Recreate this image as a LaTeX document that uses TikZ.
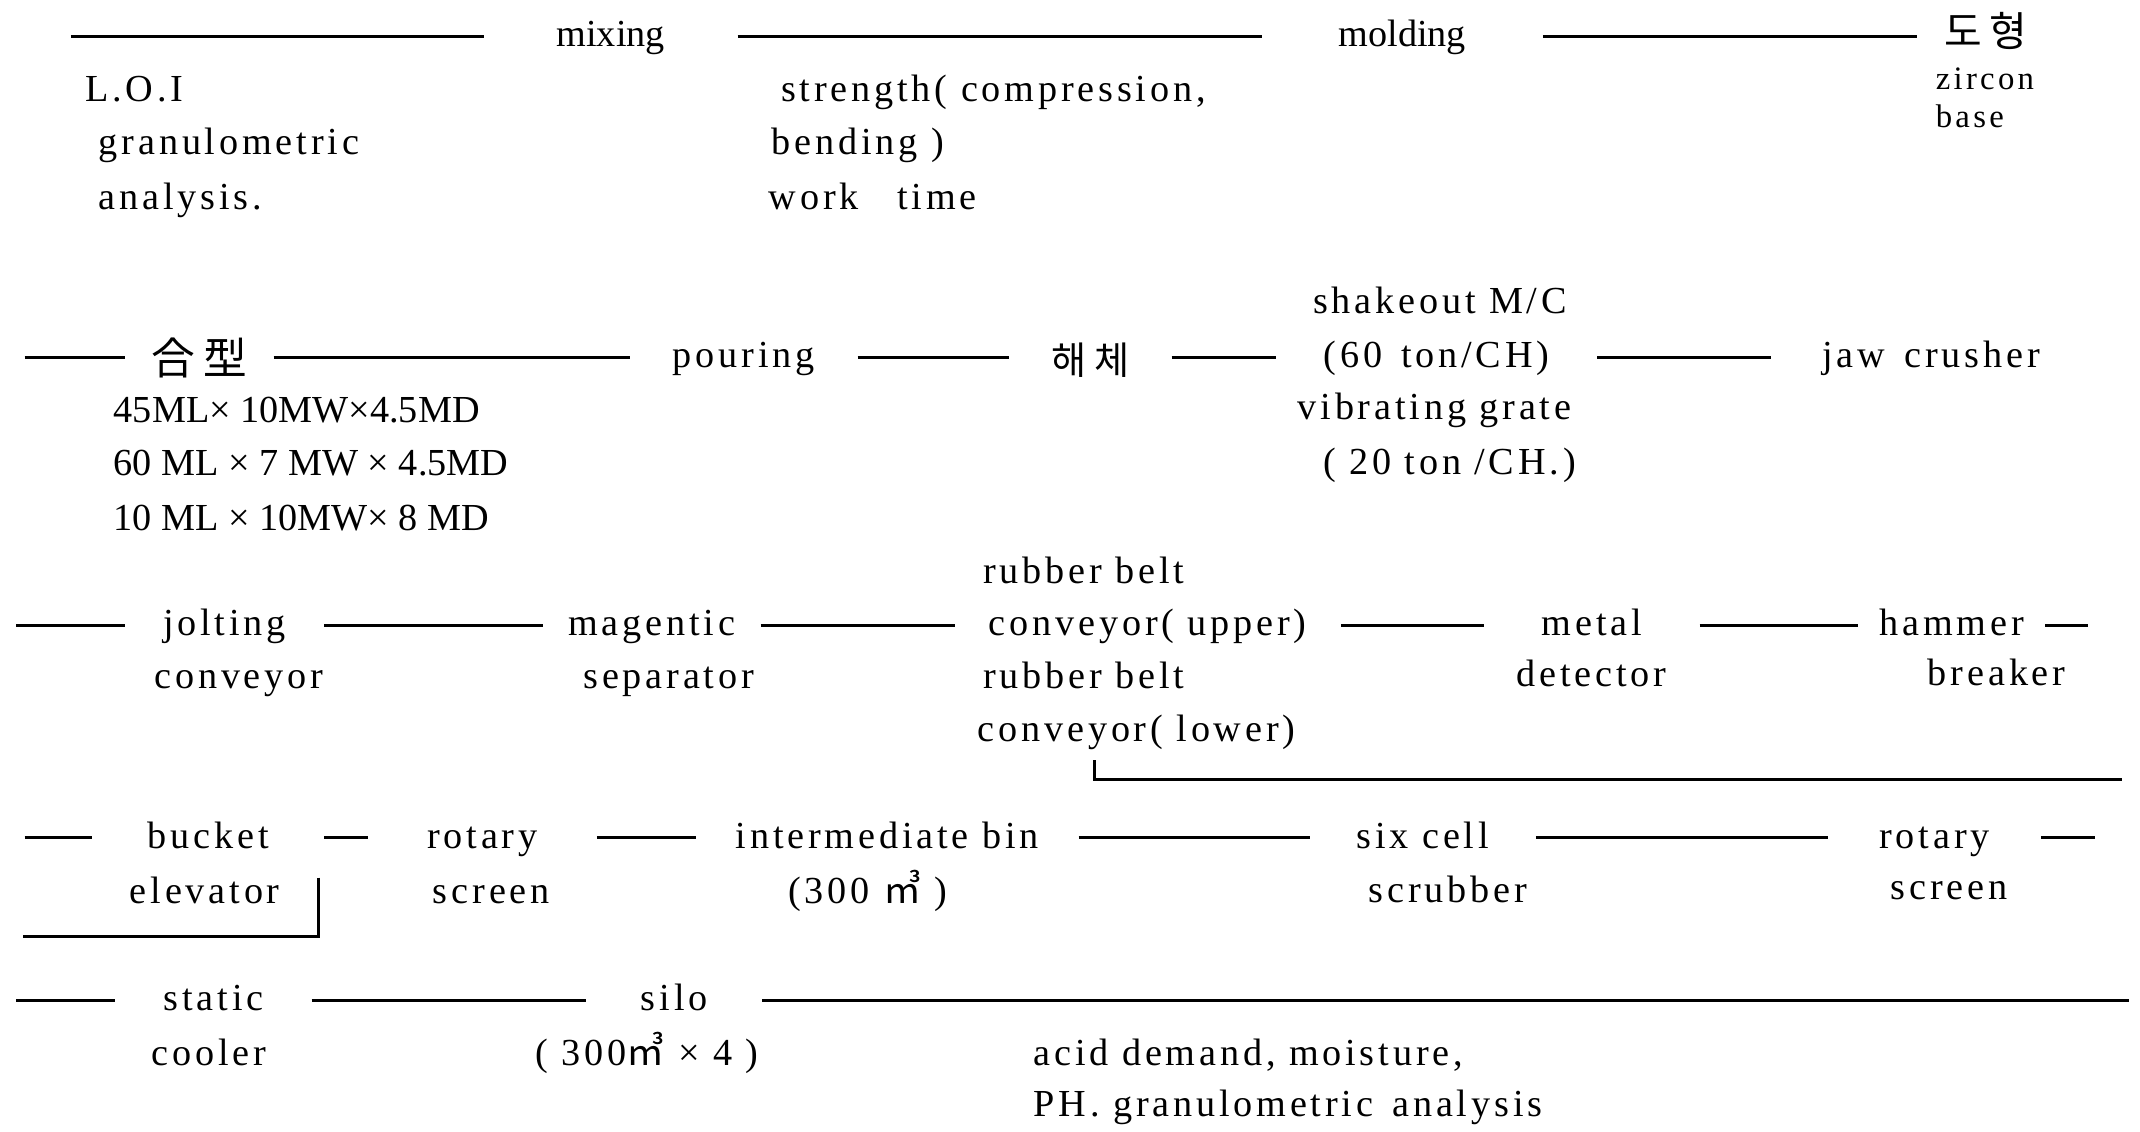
\documentclass[tikz,border=0pt]{standalone}
\usepackage{fontspec}
\setmainfont{Liberation Serif}[LetterSpace=10]
\newfontfamily\plainrm{Liberation Serif}
\newfontfamily\kr{Noto Sans CJK KR}[LetterSpace=20]
\newfontfamily\krm{Noto Sans CJK KR}
\newcommand\myfs{\fontsize{14}{17}\selectfont}
\newcommand\mysmall{\fontsize{12}{14}\selectfont}
\tikzset{
  txt/.style={inner sep=0pt, font=\myfs, text height=2.3ex, text depth=0.7ex},
  flow/.style={txt, minimum height=3ex},
  conn/.style={line width=1.1pt},
}
\begin{document}
\begin{tikzpicture}[x=0.5pt, y=-0.5pt]
\useasboundingbox (0,0) rectangle (1568,829.4);

% ---------- row 1 ----------
\coordinate (r1s) at (52,27);
\node[flow, minimum width=92.5pt, font=\myfs\plainrm] (mix) at (447.5,27) {mixing};
\node[flow, minimum width=102.5pt, font=\myfs\plainrm] (mold) at (1027.5,27) {molding};
\node[flow, minimum width=50pt, font=\fontsize{15}{17}\selectfont\kr] (doh) at (1455,27) {도형};
\draw[conn] (r1s) -- (mix);
\draw[conn] (mix) -- (mold);
\draw[conn] (mold) -- (doh);

\node[txt, anchor=west] (loi) at (62,67) {L.O.I};
\node[txt, anchor=west] (gran1) at (72,106) {granulometric};
\node[txt, anchor=west] (ana1) at (72,146) {analysis.};
\node[txt, anchor=west] (str) at (572,67) {strength( compression,};
\node[txt, anchor=west] (bend) at (565,106) {bending )};
\node[txt, anchor=west] (work) at (563,146) {work\quad time};
\node[txt, anchor=west, font=\mysmall] (zir) at (1418,58) {zircon};
\node[txt, anchor=west, font=\mysmall] (base) at (1418,86) {base};

% ---------- row 2 ----------
\coordinate (r2s) at (18,262);
\node[flow, minimum width=54pt, font=\fontsize{16}{18}\selectfont\kr] (hap) at (146,262) {\raisebox{-2.5pt}{合型}};
\node[flow, minimum width=83pt] (pour) at (545,262) {pouring};
\node[flow, minimum width=59pt, font=\fontsize{14}{17}\selectfont\kr] (hae) at (799,262) {\raisebox{-2.5pt}{해체}};
\node[flow, minimum width=117.5pt] (sixty) at (1052.5,262) {(60\enspace ton/CH)};
\node[flow, minimum width=117pt] (jaw) at (1415,262) {jaw\enspace crusher};
\draw[conn] (r2s) -- (hap);
\draw[conn] (hap) -- (pour);
\draw[conn] (pour) -- (hae);
\draw[conn] (hae) -- (sixty);
\draw[conn] (sixty) -- (jaw);

\node[txt] (shake) at (1055,222) {shakeout M/C};
\node[txt] (vib) at (1051,300) {vibrating grate};
\node[txt] (twenty) at (1062,340) {( 20 ton /CH.)};
\node[txt, anchor=west, font=\myfs\plainrm] (d1) at (83,302) {45ML× 10MW×4.5MD};
\node[txt, anchor=west, font=\myfs\plainrm] (d2) at (83,341) {60 ML × 7 MW × 4.5MD};
\node[txt, anchor=west, font=\myfs\plainrm] (d3) at (83,381) {10 ML × 10MW× 8 MD};

% ---------- row 3 ----------
\coordinate (r3s) at (12,458);
\node[flow, minimum width=72.5pt] (jolt) at (164.5,458) {jolting};
\node[flow, minimum width=79.5pt] (mag) at (477.5,458) {magentic};
\node[flow, minimum width=141pt] (upper) at (841,458) {conveyor( upper)};
\node[flow, minimum width=78.5pt] (metal) at (1166.5,458) {metal};
\node[flow, minimum width=68pt] (ham) at (1430,458) {hammer};
\coordinate (r3e) at (1530,458);
\draw[conn] (r3s) -- (jolt);
\draw[conn] (jolt) -- (mag);
\draw[conn] (mag) -- (upper);
\draw[conn] (upper) -- (metal);
\draw[conn] (metal) -- (ham);
\draw[conn] (ham) -- (r3e);

\node[txt] (conv1) at (175,497) {conveyor};
\node[txt] (sep) at (490,497) {separator};
\node[txt, anchor=west] (rb1) at (720,420) {rubber belt};
\node[txt, anchor=west] (rb2) at (720,497) {rubber belt};
\node[txt, anchor=west] (lower) at (716,536) {conveyor( lower)};
\node[txt] (det) at (1166,496) {detector};
\node[txt] (brk) at (1463,495) {breaker};
\coordinate (lb1) at (802,557);
\coordinate (lb2) at (1555,571);
\draw[conn] (lb1) |- (lb2);

% ---------- row 4 ----------
\coordinate (r4s) at (18,614);
\node[flow, minimum width=84.5pt] (buck) at (152.5,614) {bucket};
\node[flow, minimum width=83.5pt] (rot1) at (353.5,614) {rotary};
\node[flow, minimum width=140pt] (inter) at (650,614) {intermediate bin};
\node[flow, minimum width=82.5pt] (six) at (1042.5,614) {six cell};
\node[flow, minimum width=77.5pt] (rot2) at (1417.5,614) {rotary};
\coordinate (r4e) at (1535,614);
\draw[conn] (r4s) -- (buck);
\draw[conn] (buck) -- (rot1);
\draw[conn] (rot1) -- (inter);
\draw[conn] (inter) -- (six);
\draw[conn] (six) -- (rot2);
\draw[conn] (rot2) -- (r4e);

\node[txt] (elev) at (150,655) {elevator};
\node[txt] (scr1) at (360,655) {screen};
\node[txt] (cap1) at (636,655) {(300 {\krm ㎥} )};
\node[txt] (scrub) at (1061,654) {scrubber};
\node[txt] (scr2) at (1428,652) {screen};
\coordinate (eb1) at (233,643);
\coordinate (eb2) at (17,686);
\draw[conn] (eb1) |- (eb2);

% ---------- row 5 ----------
\coordinate (r5s) at (12,733);
\node[flow, minimum width=71.5pt] (stat) at (156.5,733) {static};
\node[flow, minimum width=64pt] (silo) at (494,733) {silo};
\coordinate (r5e) at (1560,733);
\draw[conn] (r5s) -- (stat);
\draw[conn] (stat) -- (silo);
\draw[conn] (silo) -- (r5e);

\node[txt] (cool) at (153,773) {cooler};
\node[txt] (cap2) at (474,773) {( 300{\krm ㎥} × 4 )};
\node[txt, anchor=west] (acid) at (757,773) {acid demand, moisture,};
\node[txt, anchor=west] (ph) at (757,811) {PH. granulometric\enspace analysis};
\end{tikzpicture}
\end{document}
